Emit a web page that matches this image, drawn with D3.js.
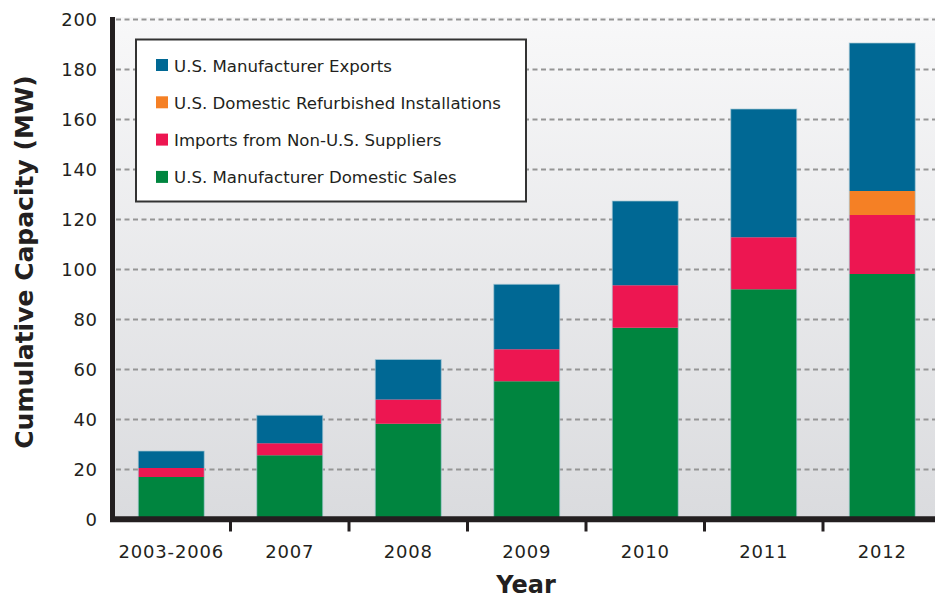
<!DOCTYPE html>
<html>
<head>
<meta charset="utf-8">
<script src="https://cdn.jsdelivr.net/npm/d3@7"></script>
<style>
  body { margin: 0; background: #fff; }
  svg text { font-family: "DejaVu Sans", sans-serif; fill: #231f20; }
</style>
</head>
<body>
<svg id="drawing_region"></svg>
<script>
var width = 935;
var height = 599;

// data (MW)
const years = ["2003-2006", "2007", "2008", "2009", "2010", "2011", "2012"];
const domesticSales = [17, 25.7, 38.3, 55.3, 76.7, 92.1, 98.2];
const imports = [3.6, 4.8, 9.7, 12.8, 17.0, 20.8, 23.6];
const refurbished = [0, 0, 0, 0, 0, 0, 9.6];
const exportsMW = [6.8, 11.2, 16.0, 26.0, 33.7, 51.3, 59.2];
const yTicks = [0, 20, 40, 60, 80, 100, 120, 140, 160, 180, 200];

const seriesNames = [
  "U.S. Manufacturer Domestic Sales",
  "Imports from Non-U.S. Suppliers",
  "U.S. Domestic Refurbished Installations",
  "U.S. Manufacturer Exports"
];
const seriesColors = ["#00853f", "#ed1651", "#f58025", "#006894"];

const rows = years.map((y, i) => ({
  year: y,
  s0: domesticSales[i],
  s1: imports[i],
  s2: refurbished[i],
  s3: exportsMW[i]
}));

var svg = d3.select('#drawing_region')
      .attr('width', width)
      .attr('height', height);

const plotLeft = 112.5, plotRight = 935;

const xscale = d3.scaleBand()
      .domain(years)
      .range([112, 941.5])
      .paddingInner(0.443)
      .paddingOuter(0.2215);

const yscale = d3.scaleLinear()
      .domain([0, 200])
      .range([519.5, 19.5]);

// background gradient
const defs = svg.append('defs');
const grad = defs.append('linearGradient')
      .attr('id', 'bg').attr('x1', 0).attr('y1', 0).attr('x2', 0).attr('y2', 1);
grad.append('stop').attr('offset', '0%').attr('stop-color', '#f8f8f9');
grad.append('stop').attr('offset', '100%').attr('stop-color', '#dadbde');

svg.append('rect')
      .attr('x', plotLeft).attr('y', 17)
      .attr('width', plotRight - plotLeft).attr('height', 519.5 - 17)
      .attr('fill', 'url(#bg)');

// dashed grid
svg.append('g')
      .selectAll('line')
      .data(yTicks.filter(d => d > 0))
      .enter()
      .append('line')
      .attr('x1', 116).attr('x2', plotRight)
      .attr('y1', d => yscale(d)).attr('y2', d => yscale(d))
      .attr('stroke', '#959595')
      .attr('stroke-width', 2)
      .attr('stroke-dasharray', '5,3.5');

// stacked bars
const stack = d3.stack().keys(['s0', 's1', 's2', 's3']);
const layers = stack(rows);

svg.append('g')
      .selectAll('g')
      .data(layers)
      .enter()
      .append('g')
      .attr('fill', (d, i) => seriesColors[i])
      .selectAll('rect')
      .data(d => d.filter(p => p[1] - p[0] > 0))
      .enter()
      .append('rect')
      .attr('x', d => xscale(d.data.year))
      .attr('width', xscale.bandwidth())
      .attr('y', d => yscale(d[1]))
      .attr('height', d => yscale(d[0]) - yscale(d[1]));

// thin light outline round each bar
svg.append('g')
      .selectAll('rect')
      .data(layers[layers.length - 1])
      .enter()
      .append('rect')
      .attr('x', d => xscale(d.data.year))
      .attr('width', xscale.bandwidth())
      .attr('y', d => yscale(d[1]))
      .attr('height', d => yscale(0) - yscale(d[1]))
      .attr('fill', 'none')
      .attr('stroke', '#a9c9d6')
      .attr('stroke-opacity', 0.7)
      .attr('stroke-width', 1);

// legend
const legend = svg.append('g');
legend.append('rect')
      .attr('x', 136).attr('y', 39.5)
      .attr('width', 390).attr('height', 162)
      .attr('fill', '#fff')
      .attr('stroke', '#333')
      .attr('stroke-width', 2);

const legendOrder = [3, 2, 1, 0];
const items = legend.selectAll('g.item')
      .data(legendOrder)
      .enter()
      .append('g')
      .attr('transform', (d, i) => `translate(156, ${65 + i * 37.3})`);
items.append('rect')
      .attr('x', 0).attr('y', -6)
      .attr('width', 12).attr('height', 12)
      .attr('fill', d => seriesColors[d]);
items.append('text')
      .attr('x', 18).attr('y', 6.5)
      .style('font-size', '16.6px')
      .text(d => seriesNames[d]);

// y axis
const yAxis = d3.axisLeft(yscale).tickValues(yTicks).tickSize(0).tickPadding(15);
const yg = svg.append('g')
      .attr('transform', `translate(${plotLeft}, 0)`)
      .call(yAxis);
yg.select('.domain').remove();
yg.selectAll('text')
      .attr('dy', '0.36em')
      .style('font-size', '18px')
      .style('letter-spacing', '0.6px')
      .style('font-family', '"DejaVu Sans", sans-serif')
      .attr('fill', '#231f20');

// x axis
const xAxis = d3.axisBottom(xscale).tickSize(0).tickPadding(0);
const xg = svg.append('g')
      .attr('transform', 'translate(0, 519.5)')
      .call(xAxis);
xg.select('.domain').remove();
xg.selectAll('text')
      .attr('y', 38.5)
      .attr('dy', 0)
      .style('font-size', '18px')
      .style('letter-spacing', '0.8px')
      .style('font-family', '"DejaVu Sans", sans-serif')
      .attr('fill', '#231f20');

// tick marks between the categories
svg.append('g')
      .selectAll('line')
      .data(years.slice(1))
      .enter()
      .append('line')
      .attr('x1', d => xscale(d) - xscale.step() * xscale.paddingInner() / 2)
      .attr('x2', d => xscale(d) - xscale.step() * xscale.paddingInner() / 2)
      .attr('y1', 519).attr('y2', 531.5)
      .attr('stroke', '#231f20')
      .attr('stroke-width', 3);

// axis lines
svg.append('line')
      .attr('x1', 110).attr('x2', plotRight)
      .attr('y1', 519.3).attr('y2', 519.3)
      .attr('stroke', '#231f20').attr('stroke-width', 6);
svg.append('line')
      .attr('x1', plotLeft).attr('x2', plotLeft)
      .attr('y1', 17).attr('y2', 522)
      .attr('stroke', '#231f20').attr('stroke-width', 5);

// titles
svg.append('text')
      .attr('transform', 'translate(33, 262) rotate(-90)')
      .attr('text-anchor', 'middle')
      .style('font-size', '25px')
      .style('font-weight', 'bold')
      .text('Cumulative Capacity (MW)');

svg.append('text')
      .attr('x', 526).attr('y', 593)
      .attr('text-anchor', 'middle')
      .style('font-size', '24px')
      .style('font-weight', 'bold')
      .text('Year');
</script>
</body>
</html>
